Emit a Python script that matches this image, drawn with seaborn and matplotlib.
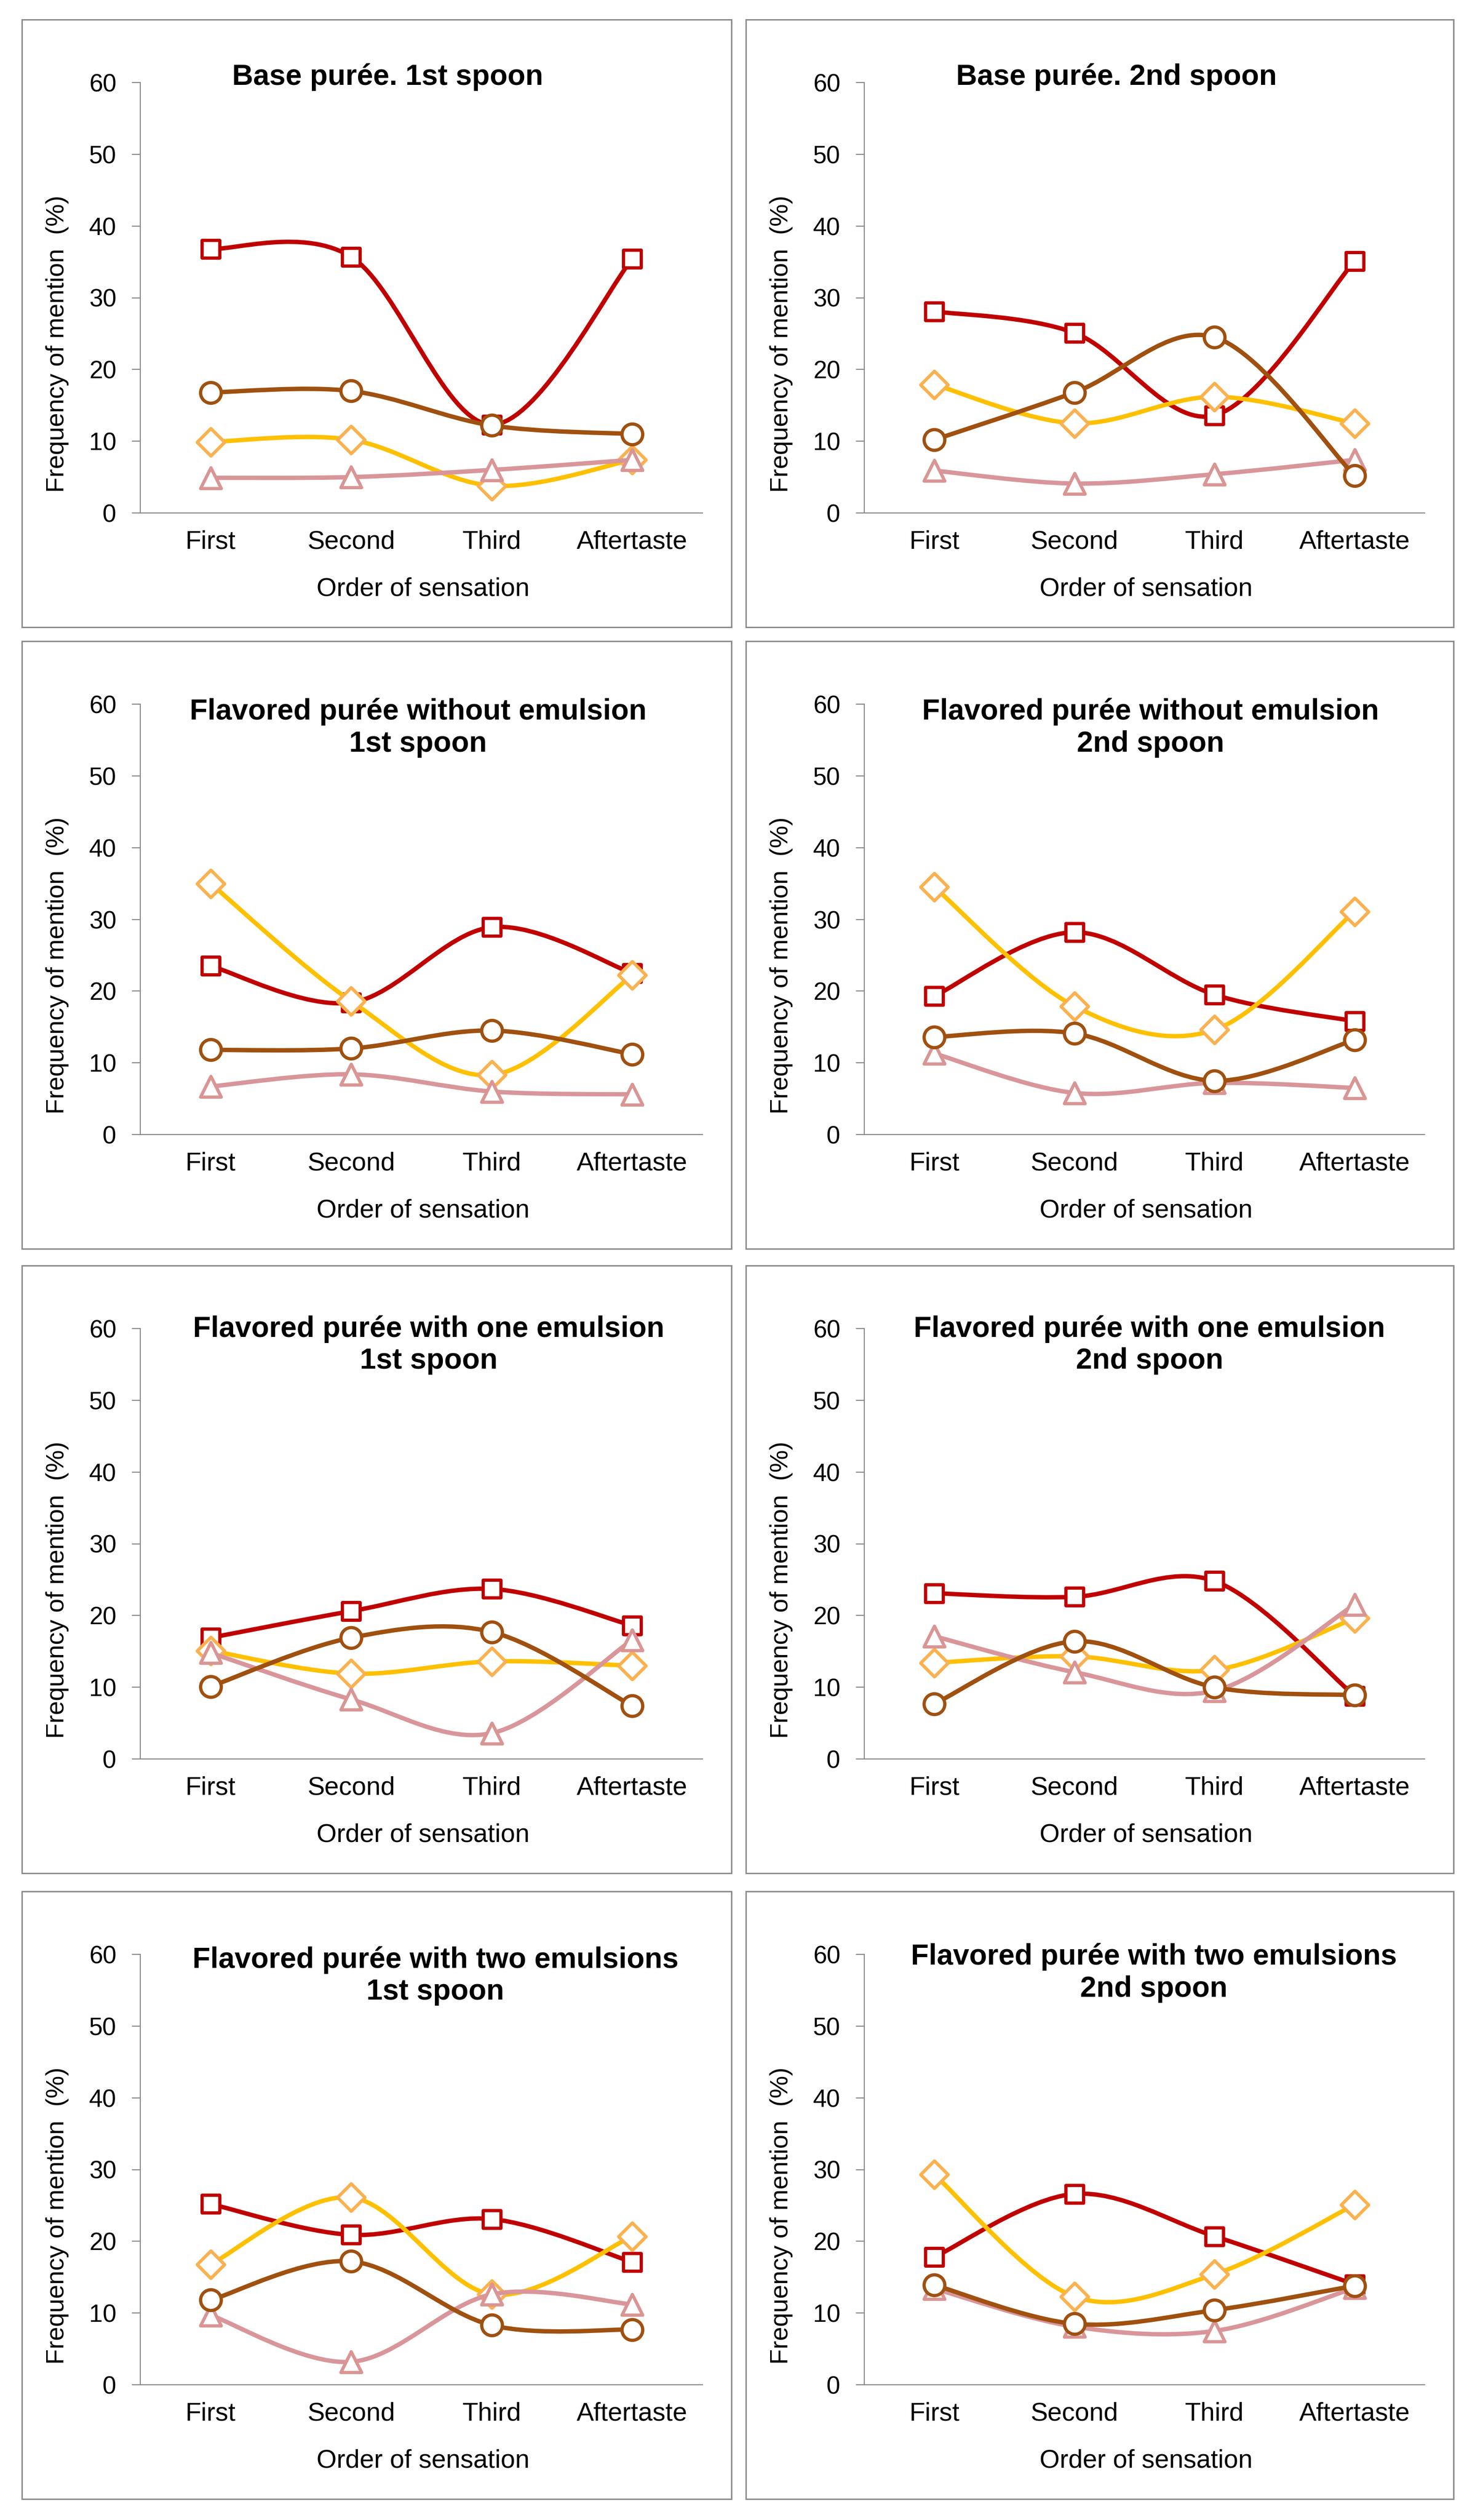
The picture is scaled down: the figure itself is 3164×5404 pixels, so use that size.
import matplotlib
matplotlib.use("Agg")
import matplotlib.pyplot as plt
import seaborn as sns
import numpy as np
import pandas as pd
from matplotlib.path import Path
from matplotlib.patches import PathPatch, Rectangle

categories = ["First", "Second", "Third", "Aftertaste"]

titles = [
    "Base purée. 1st spoon",
    "Base purée. 2nd spoon",
    "Flavored purée without emulsion\n1st spoon",
    "Flavored purée without emulsion\n2nd spoon",
    "Flavored purée with one emulsion\n1st spoon",
    "Flavored purée with one emulsion\n2nd spoon",
    "Flavored purée with two emulsions\n1st spoon",
    "Flavored purée with two emulsions\n2nd spoon",
]

# one row per panel, one value per category (%)
red_square = [
    [36.8, 35.7, 12.3, 35.4],
    [28.1, 25.1, 13.6, 35.1],
    [23.5, 18.4, 28.9, 22.5],
    [19.3, 28.2, 19.5, 15.8],
    [16.9, 20.6, 23.7, 18.6],
    [23.1, 22.6, 24.8, 8.8],
    [25.2, 20.9, 23.1, 17.1],
    [17.8, 26.6, 20.7, 14.0],
]
gold_diamond = [
    [9.9, 10.2, 3.8, 7.4],
    [17.9, 12.5, 16.2, 12.5],
    [35.0, 18.6, 8.3, 22.2],
    [34.5, 17.9, 14.6, 31.1],
    [15.1, 11.9, 13.6, 13.0],
    [13.4, 14.3, 12.4, 19.6],
    [16.8, 26.1, 12.6, 20.7],
    [29.3, 12.3, 15.4, 25.1],
]
pink_triangle = [
    [4.9, 5.0, 6.0, 7.4],
    [5.9, 4.1, 5.4, 7.4],
    [6.7, 8.4, 6.0, 5.6],
    [11.3, 5.8, 7.2, 6.5],
    [14.8, 8.3, 3.6, 16.6],
    [17.1, 12.1, 9.5, 21.5],
    [9.7, 3.2, 12.6, 11.2],
    [13.4, 8.1, 7.5, 13.5],
]
brown_circle = [
    [16.8, 17.0, 12.2, 11.0],
    [10.2, 16.8, 24.5, 5.2],
    [11.8, 12.0, 14.5, 11.2],
    [13.6, 14.1, 7.5, 13.2],
    [10.1, 16.9, 17.7, 7.4],
    [7.7, 16.4, 10.0, 8.9],
    [11.8, 17.2, 8.3, 7.7],
    [13.9, 8.5, 10.4, 13.8],
]

# series: values, line colour, marker, marker edge colour, marker size (pt)
series = [
    (red_square, "#C00000", "s", "#C00000", 28),
    (gold_diamond, "#FFC000", "D", "#FAB14F", 30),
    (pink_triangle, "#D9969A", "^", "#D99594", 32),
    (brown_circle, "#A0500F", "o", "#A0500F", 32),
]

title_x = [0.44, 0.45, 0.494, 0.511, 0.513, 0.509, 0.525, 0.517]
title_y = [1.013, 1.013, 0.945, 0.945, 0.962, 0.962, 0.95, 0.957]

W, H = 3164, 5404
box_left = [47, 1600]
box_width = [1522, 1518]
box_top = [42, 1375, 2714, 4056]
box_height = 1303

sns.set_theme(style="white")
plt.rcParams["font.family"] = ["Liberation Sans", "DejaVu Sans"]

AXIS_GREY = "#868686"


def smooth_path(x, y):
    # Excel-like smoothed line: Catmull-Rom segments as cubic Bezier
    pts = np.column_stack([x, y]).astype(float)
    n = len(pts)
    verts = [pts[0]]
    codes = [Path.MOVETO]
    for i in range(n - 1):
        p0 = pts[i - 1] if i > 0 else pts[i]
        p1 = pts[i]
        p2 = pts[i + 1]
        p3 = pts[i + 2] if i + 2 < n else pts[i + 1]
        verts += [p1 + (p2 - p0) / 6, p2 - (p3 - p1) / 6, p2]
        codes += [Path.CURVE4] * 3
    return Path(verts, codes)


fig = plt.figure(figsize=(W / 100, H / 100), dpi=100)
fig.patch.set_facecolor("white")

for k in range(8):
    row, col = divmod(k, 2)
    bx, bw, by = box_left[col], box_width[col], box_top[row]
    fig.add_artist(Rectangle((bx / W, 1 - (by + box_height) / H), bw / W, box_height / H,
                             transform=fig.transFigure, fill=False,
                             edgecolor="#8c8c8c", linewidth=2.2))
    ax_l = bx + 254
    ax_w = bw - 254 - 62
    ax_t = by + 135
    ax_h = box_height - 135 - 245
    ax = fig.add_axes([ax_l / W, 1 - (ax_t + ax_h) / H, ax_w / W, ax_h / H])
    ax.set_facecolor("none")

    xs = np.arange(len(categories))
    for z, (vals, lc, mk, mc, ms) in enumerate(series):
        y = vals[k]
        ax.add_patch(PathPatch(smooth_path(xs, y), facecolor="none", edgecolor=lc,
                               linewidth=6.8, capstyle="round", joinstyle="round",
                               zorder=3 + 2 * z))
        df = pd.DataFrame({"order": xs, "freq": y})
        sns.scatterplot(data=df, x="order", y="freq", marker=mk, s=ms ** 2,
                        color="white", edgecolor=mc, linewidth=5,
                        zorder=4 + 2 * z, ax=ax, clip_on=False)

    ax.set_xlim(-0.5, 3.5)
    ax.set_ylim(0, 60)
    ax.set_xticks(xs)
    ax.set_xticklabels(categories)
    ax.set_yticks(range(0, 61, 10))
    sns.despine(ax=ax)
    for side in ["left", "bottom"]:
        ax.spines[side].set_color(AXIS_GREY)
        ax.spines[side].set_linewidth(1.6)
    ax.tick_params(axis="x", length=0, pad=26, labelsize=40, colors="black")
    ax.tick_params(axis="y", length=13, width=1.6, color=AXIS_GREY, pad=24,
                   labelsize=38, labelcolor="black", left=True, direction="out")

    ax.set_xlabel("Order of sensation", fontsize=40, color="black")
    ax.xaxis.label.set_verticalalignment("center")
    ax.xaxis.set_label_coords(0.503, -0.177)
    ax.set_ylabel("Frequency of mention  (%)", fontsize=39, color="black")
    ax.yaxis.label.set_verticalalignment("center")
    ax.yaxis.set_label_coords(-0.148, 0.393)

    ax.text(title_x[k], title_y[k], titles[k], transform=ax.transAxes,
            ha="center", va="center", fontsize=45, fontweight="bold",
            linespacing=1.2, color="black", zorder=20)

fig.savefig("out.png", dpi=100, facecolor="white")
